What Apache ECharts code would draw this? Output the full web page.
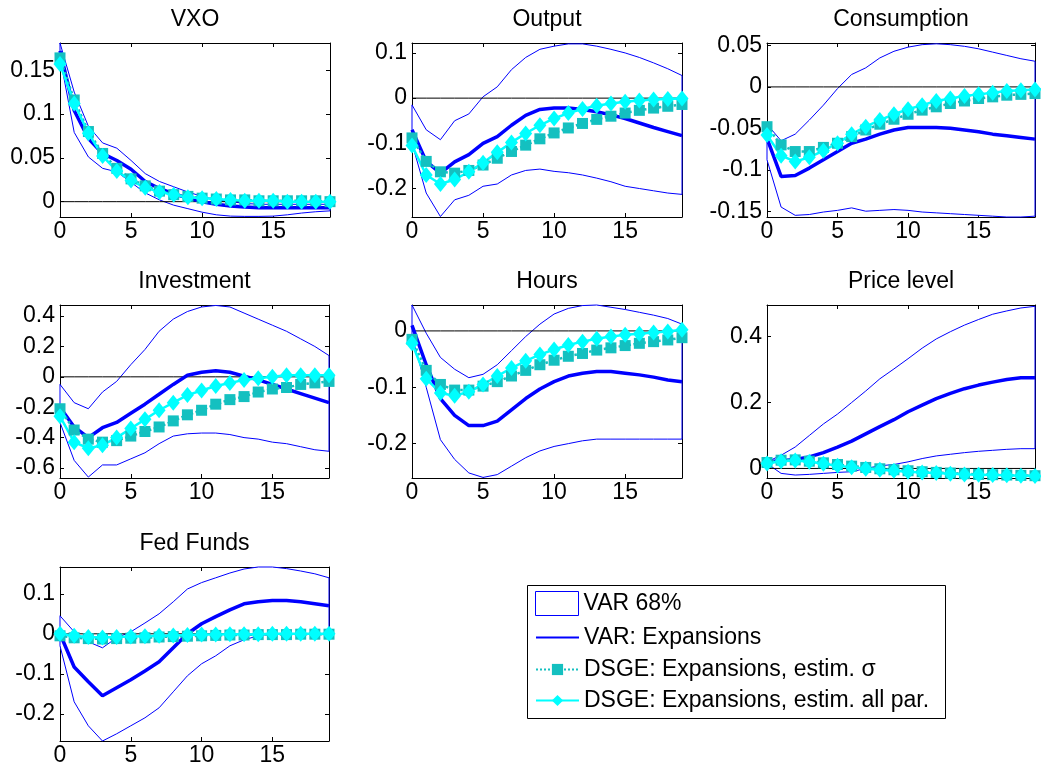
<!DOCTYPE html>
<html><head><meta charset="utf-8">
<script src="https://cdn.jsdelivr.net/npm/echarts@6/dist/echarts.min.js"></script>
<style>html,body{margin:0;padding:0;background:#fff}#c{width:1041px;height:773px}</style>
</head><body><div id="c"></div>
<script>
// ---------- data ----------
const horizon = [0,1,2,3,4,5,6,7,8,9,10,11,12,13,14,15,16,17,18,19];
const xTicks = [0,5,10,15];
const panelTitles = ['VXO','Output','Consumption','Investment','Hours','Price level','Fed Funds'];
const legendNames = ['VAR 68%','VAR: Expansions','DSGE: Expansions, estim. σ','DSGE: Expansions, estim. all par.'];

const vxoUpper  = [0.181,0.125,0.086,0.067,0.061,0.047,0.032,0.023,0.017,0.011,0.006,0.002,0.0,-0.002,-0.003,-0.003,-0.003,-0.003,-0.003,-0.003];
const vxoMedian = [0.172,0.104,0.072,0.055,0.047,0.037,0.023,0.015,0.009,0.004,0.0,-0.003,-0.005,-0.006,-0.007,-0.007,-0.007,-0.007,-0.007,-0.007];
const vxoLower  = [0.165,0.079,0.051,0.038,0.034,0.022,0.010,0.002,-0.004,-0.008,-0.012,-0.015,-0.0165,-0.0168,-0.0168,-0.0165,-0.015,-0.013,-0.0115,-0.0105];
const vxoSigma  = [0.164,0.116,0.080,0.055,0.038,0.026,0.018,0.012,0.008,0.006,0.004,0.003,0.002,0.002,0.001,0.001,0.001,0.001,0.001,0.0];
const vxoAll    = [0.157,0.112,0.078,0.052,0.035,0.024,0.016,0.011,0.008,0.005,0.004,0.003,0.002,0.001,0.001,0.001,0.0,0.0,0.0,0.0];
const vxoTicks = [0,0.05,0.1,0.15];
const vxoRange = [-0.0175,0.181];

const outUpper  = [-0.015,-0.07,-0.092,-0.05,-0.035,0.003,0.025,0.063,0.09,0.108,0.115,0.12,0.12,0.115,0.108,0.1,0.09,0.078,0.065,0.05];
const outMedian = [-0.07,-0.14,-0.166,-0.141,-0.125,-0.1,-0.085,-0.06,-0.038,-0.025,-0.022,-0.022,-0.025,-0.03,-0.037,-0.045,-0.055,-0.065,-0.074,-0.083];
const outLower  = [-0.10,-0.21,-0.262,-0.225,-0.215,-0.195,-0.19,-0.17,-0.16,-0.157,-0.162,-0.165,-0.17,-0.177,-0.185,-0.195,-0.2,-0.205,-0.21,-0.213];
const outSigma  = [-0.088,-0.14,-0.163,-0.166,-0.16,-0.148,-0.133,-0.118,-0.104,-0.09,-0.077,-0.066,-0.056,-0.047,-0.04,-0.033,-0.027,-0.022,-0.018,-0.014];
const outAll    = [-0.105,-0.17,-0.19,-0.18,-0.163,-0.143,-0.12,-0.098,-0.078,-0.06,-0.045,-0.033,-0.024,-0.017,-0.012,-0.008,-0.005,-0.003,-0.002,-0.001];
const outTicks = [-0.2,-0.1,0,0.1];
const outRange = [-0.263,0.122];

const conUpper  = [-0.045,-0.065,-0.057,-0.04,-0.022,-0.002,0.015,0.023,0.035,0.043,0.048,0.051,0.052,0.051,0.049,0.046,0.042,0.038,0.034,0.031];
const conMedian = [-0.062,-0.108,-0.107,-0.098,-0.088,-0.078,-0.068,-0.063,-0.057,-0.052,-0.049,-0.049,-0.049,-0.05,-0.052,-0.054,-0.057,-0.059,-0.061,-0.063];
const conLower  = [-0.088,-0.145,-0.155,-0.154,-0.151,-0.149,-0.146,-0.15,-0.149,-0.148,-0.149,-0.151,-0.152,-0.153,-0.154,-0.155,-0.156,-0.157,-0.157,-0.156];
const conSigma  = [-0.048,-0.07,-0.078,-0.078,-0.073,-0.068,-0.06,-0.052,-0.045,-0.039,-0.033,-0.028,-0.024,-0.02,-0.017,-0.014,-0.012,-0.01,-0.009,-0.008];
const conAll    = [-0.058,-0.083,-0.09,-0.085,-0.077,-0.068,-0.057,-0.048,-0.04,-0.033,-0.027,-0.022,-0.017,-0.014,-0.011,-0.009,-0.007,-0.005,-0.004,-0.003];
const conTicks = [-0.15,-0.1,-0.05,0,0.05];
const conRange = [-0.157,0.053];

const invUpper  = [-0.05,-0.17,-0.21,-0.1,-0.03,0.08,0.18,0.3,0.38,0.43,0.46,0.47,0.46,0.42,0.38,0.34,0.3,0.25,0.2,0.14];
const invMedian = [-0.2,-0.33,-0.4,-0.335,-0.3,-0.24,-0.18,-0.115,-0.05,0.01,0.03,0.04,0.03,0.005,-0.02,-0.05,-0.08,-0.11,-0.14,-0.17];
const invLower  = [-0.3,-0.55,-0.66,-0.58,-0.58,-0.54,-0.5,-0.44,-0.39,-0.375,-0.37,-0.37,-0.38,-0.4,-0.41,-0.43,-0.44,-0.46,-0.48,-0.49];
const invSigma  = [-0.21,-0.35,-0.41,-0.43,-0.42,-0.39,-0.36,-0.33,-0.29,-0.25,-0.22,-0.18,-0.15,-0.13,-0.1,-0.08,-0.07,-0.05,-0.04,-0.03];
const invAll    = [-0.26,-0.43,-0.47,-0.45,-0.4,-0.34,-0.28,-0.22,-0.17,-0.12,-0.09,-0.06,-0.04,-0.02,-0.01,0.0,0.01,0.01,0.01,0.01];
const invTicks = [-0.6,-0.4,-0.2,0,0.2,0.4];
const invRange = [-0.666,0.473];

const hrsUpper  = [0.046,-0.004,-0.047,-0.068,-0.083,-0.077,-0.06,-0.035,-0.01,0.012,0.03,0.04,0.045,0.046,0.042,0.038,0.033,0.028,0.022,0.012];
const hrsMedian = [0.01,-0.06,-0.12,-0.15,-0.168,-0.168,-0.16,-0.14,-0.12,-0.103,-0.09,-0.08,-0.075,-0.072,-0.072,-0.075,-0.078,-0.082,-0.087,-0.09];
const hrsLower  = [-0.01,-0.1,-0.193,-0.228,-0.252,-0.26,-0.255,-0.24,-0.225,-0.213,-0.205,-0.2,-0.195,-0.192,-0.192,-0.192,-0.192,-0.192,-0.192,-0.192];
const hrsSigma  = [-0.015,-0.07,-0.095,-0.105,-0.105,-0.098,-0.09,-0.08,-0.07,-0.06,-0.052,-0.045,-0.04,-0.034,-0.03,-0.026,-0.022,-0.019,-0.016,-0.012];
const hrsAll    = [-0.022,-0.085,-0.11,-0.115,-0.108,-0.095,-0.08,-0.066,-0.053,-0.042,-0.033,-0.025,-0.019,-0.014,-0.01,-0.007,-0.005,-0.003,-0.001,0.002];
const hrsTicks = [-0.2,-0.1,0];
const hrsRange = [-0.261,0.046];

const prcUpper  = [0.02,0.04,0.065,0.1,0.135,0.165,0.2,0.235,0.272,0.302,0.333,0.365,0.393,0.415,0.435,0.452,0.468,0.478,0.487,0.492];
const prcMedian = [0.02,0.023,0.027,0.035,0.048,0.065,0.083,0.105,0.127,0.148,0.172,0.192,0.212,0.228,0.242,0.253,0.262,0.27,0.275,0.275];
const prcLower  = [0.015,-0.015,-0.02,-0.018,-0.015,-0.012,-0.01,0.0,0.008,0.012,0.02,0.03,0.038,0.043,0.048,0.052,0.055,0.058,0.06,0.06];
const prcSigma  = [0.018,0.025,0.026,0.022,0.017,0.012,0.007,0.003,-0.001,-0.004,-0.007,-0.01,-0.012,-0.014,-0.016,-0.018,-0.019,-0.02,-0.021,-0.022];
const prcAll    = [0.015,0.022,0.024,0.02,0.014,0.008,0.004,-0.001,-0.004,-0.007,-0.01,-0.012,-0.014,-0.016,-0.018,-0.019,-0.02,-0.021,-0.022,-0.023];
const prcTicks = [0,0.2,0.4];
const prcRange = [-0.029,0.496];

const ffrUpper  = [0.045,0.005,-0.02,-0.035,-0.01,0.005,0.027,0.05,0.08,0.112,0.128,0.14,0.152,0.162,0.167,0.167,0.163,0.157,0.15,0.14];
const ffrMedian = [0.0,-0.083,-0.12,-0.155,-0.135,-0.115,-0.093,-0.07,-0.035,0.0,0.025,0.043,0.06,0.075,0.08,0.083,0.083,0.08,0.075,0.07];
const ffrLower  = [-0.03,-0.17,-0.23,-0.268,-0.25,-0.23,-0.21,-0.185,-0.145,-0.105,-0.075,-0.055,-0.03,-0.015,-0.005,0.0,0.0,0.0,0.0,0.0];
const ffrSigma  = [-0.005,-0.01,-0.012,-0.013,-0.012,-0.011,-0.01,-0.008,-0.007,-0.006,-0.005,-0.004,-0.003,-0.003,-0.002,-0.002,-0.002,-0.001,-0.001,-0.001];
const ffrAll    = [0.0,-0.005,-0.008,-0.009,-0.008,-0.007,-0.006,-0.005,-0.004,-0.003,-0.002,-0.002,-0.001,-0.001,-0.001,0.0,0.0,0.0,0.0,0.0];
const ffrTicks = [-0.2,-0.1,0,0.1];
const ffrRange = [-0.268,0.167];

// ---------- layout ----------
const layout = [
  {left:60,  top:43,  width:270, height:174},
  {left:412, top:43,  width:270, height:174},
  {left:767, top:43,  width:268, height:174},
  {left:60,  top:305, width:269, height:173},
  {left:412, top:305, width:270, height:173},
  {left:767, top:305, width:268, height:173},
  {left:60,  top:567, width:269, height:174}
];

const panels = [
  {upper:vxoUpper, median:vxoMedian, lower:vxoLower, sigma:vxoSigma, all:vxoAll, ticks:vxoTicks, range:vxoRange},
  {upper:outUpper, median:outMedian, lower:outLower, sigma:outSigma, all:outAll, ticks:outTicks, range:outRange},
  {upper:conUpper, median:conMedian, lower:conLower, sigma:conSigma, all:conAll, ticks:conTicks, range:conRange},
  {upper:invUpper, median:invMedian, lower:invLower, sigma:invSigma, all:invAll, ticks:invTicks, range:invRange},
  {upper:hrsUpper, median:hrsMedian, lower:hrsLower, sigma:hrsSigma, all:hrsAll, ticks:hrsTicks, range:hrsRange},
  {upper:prcUpper, median:prcMedian, lower:prcLower, sigma:prcSigma, all:prcAll, ticks:prcTicks, range:prcRange},
  {upper:ffrUpper, median:ffrMedian, lower:ffrLower, sigma:ffrSigma, all:ffrAll, ticks:ffrTicks, range:ffrRange}
];

const FONT = '"Liberation Sans", Arial, Helvetica, sans-serif';
const FS = 23;
const BLUE = '#0000ff', TEAL = '#14c0c0', CYAN = '#00ffff';

const option = {
  animation:false, backgroundColor:'#fff',
  title:[], grid:[], xAxis:[], yAxis:[], series:[], legend:[], graphic:[]
};

function pairs(arr){ return horizon.map((x,i)=>[x, arr[i]]); }

panels.forEach((p,k)=>{
  const g = layout[k];
  option.grid.push({left:g.left, top:g.top, width:g.width, height:g.height});
  option.title.push({
    text: panelTitles[k], left: g.left + g.width/2, top: g.top - 35, textAlign:'center', padding:0,
    textStyle:{fontFamily:FONT, fontSize:FS, fontWeight:'normal', color:'#000', lineHeight:23}
  });
  const line = {show:true, onZero:false, lineStyle:{color:'#000', width:1}};
  const tick = (vals)=>({show:true, inside:true, length:4, customValues:vals, lineStyle:{color:'#000', width:1}});
  const lab = (vals, m)=>({show:true, customValues:vals, fontFamily:FONT, fontSize:FS, color:'#000', margin:m});
  option.xAxis.push({gridIndex:k, type:'value', position:'bottom', min:0, max:19, axisLine:line, axisTick:tick(xTicks), axisLabel:lab(xTicks,3), splitLine:{show:false}});
  option.xAxis.push({gridIndex:k, type:'value', position:'top', min:0, max:19, axisLine:line, axisTick:tick(xTicks), axisLabel:{show:false}, splitLine:{show:false}});
  option.yAxis.push({gridIndex:k, type:'value', position:'left', min:p.range[0], max:p.range[1], axisLine:line, axisTick:tick(p.ticks), axisLabel:lab(p.ticks,5), splitLine:{show:false}});
  option.yAxis.push({gridIndex:k, type:'value', position:'right', min:p.range[0], max:p.range[1], axisLine:line, axisTick:tick(p.ticks), axisLabel:{show:false}, splitLine:{show:false}});
  const xi = 2*k, yi = 2*k;
  // zero reference line
  option.series.push({type:'line', name:'zero', xAxisIndex:xi, yAxisIndex:yi, data:pairs(horizon.map(()=>0)), symbol:'none', silent:true,
    lineStyle:{color:'#000', width:1}});
  // VAR 68% band (white patch with blue edge)
  option.series.push({type:'custom', name:legendNames[0], xAxisIndex:xi, yAxisIndex:yi, silent:true,
    data: horizon.map((x,i)=>[x, p.lower[i], p.upper[i]]),
    encode:{x:0, y:[1,2]},
    renderItem:function(params, api){
      if (params.dataIndex !== 0) return null;
      const pts = [];
      for (let i=0;i<horizon.length;i++) pts.push(api.coord([horizon[i], p.upper[i]]));
      for (let i=horizon.length-1;i>=0;i--) pts.push(api.coord([horizon[i], p.lower[i]]));
      return {type:'polygon', shape:{points:pts}, style:{fill:'#fff', stroke:BLUE, lineWidth:1}};
    }
  });
  option.series.push({type:'line', name:legendNames[1], xAxisIndex:xi, yAxisIndex:yi, data:pairs(p.median), symbol:'none',
    lineStyle:{color:BLUE, width:3.5}, itemStyle:{color:BLUE}});
  option.series.push({type:'line', name:legendNames[2], xAxisIndex:xi, yAxisIndex:yi, data:pairs(p.sigma),
    symbol:'rect', symbolSize:11, showAllSymbol:true,
    lineStyle:{color:TEAL, width:2.5, type:'dotted'}, itemStyle:{color:TEAL}});
  option.series.push({type:'line', name:legendNames[3], xAxisIndex:xi, yAxisIndex:yi, data:pairs(p.all),
    symbol:'diamond', symbolSize:[13,16], showAllSymbol:true,
    lineStyle:{color:CYAN, width:2.5}, itemStyle:{color:CYAN}});
});

// legend box
option.graphic.push({type:'rect', left:527, top:585, z:0, shape:{width:418, height:133}, style:{fill:'#fff', stroke:'#000', lineWidth:1}});
const legText = {fontFamily:FONT, fontSize:FS, color:'#000'};
option.legend.push({left:535, top:591, padding:0, itemWidth:43, itemHeight:24, z:10, selectedMode:false, textStyle:legText,
  data:[{name:legendNames[0], icon:'rect', itemStyle:{color:'#fff', borderColor:BLUE, borderWidth:1}}]});
option.legend.push({left:535, top:626, padding:0, itemWidth:43, itemHeight:14, z:10, selectedMode:false, textStyle:legText,
  data:[{name:legendNames[1], itemStyle:{opacity:0}}]});
option.legend.push({left:535, top:658, padding:0, itemWidth:43, itemHeight:14, z:10, selectedMode:false, textStyle:legText,
  data:[{name:legendNames[2]}]});
option.legend.push({left:535, top:689, padding:0, itemWidth:43, itemHeight:14, z:10, selectedMode:false, textStyle:legText,
  data:[{name:legendNames[3]}]});

const chart = echarts.init(document.getElementById('c'));
chart.setOption(option);
</script></body></html>
